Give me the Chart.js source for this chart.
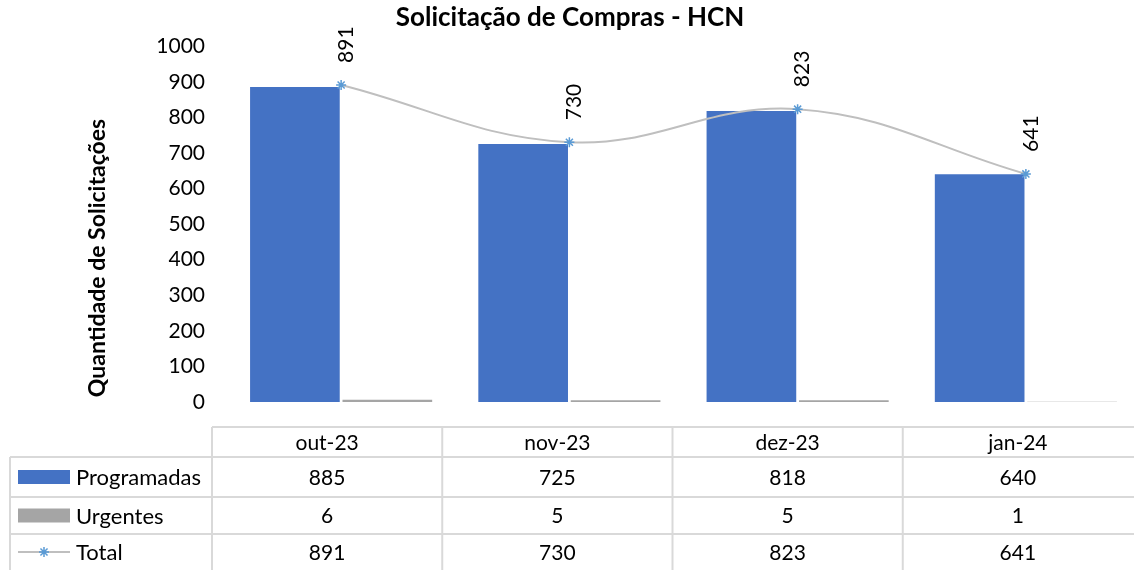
<!DOCTYPE html>
<html>
<head>
<meta charset="utf-8">
<script src="https://cdn.jsdelivr.net/npm/chart.js@4.4.0/dist/chart.umd.min.js"></script>
<style>
html, body { margin: 0; padding: 0; background: #fff; overflow: hidden; }
canvas { display: block; }
</style>
</head>
<body>
<canvas id="chart" width="1140" height="570"></canvas>
<script>
let months = ["out-23", "nov-23", "dez-23", "jan-24"];
let programadas = [885, 725, 818, 640];
let urgentes = [6, 5, 5, 1];
let total = [891, 730, 823, 641];

let fontFamily = "Lato, 'Liberation Sans', sans-serif";
let blue = "#4472c4";
let gray = "#a5a5a5";
let lineGray = "#bfbfbf";
let markerBlue = "#5b9bd5";

Chart.defaults.font.family = fontFamily;
Chart.defaults.color = "#000";

// rotated value labels above the Total line
let totalLabels = {
    id: "totalLabels",
    afterDatasetsDraw(chart) {
        let ctx = chart.ctx;
        let meta = chart.getDatasetMeta(2);
        ctx.save();
        ctx.font = "21px " + fontFamily;
        ctx.fillStyle = "#000";
        ctx.textAlign = "left";
        ctx.textBaseline = "middle";
        meta.data.forEach((pt, i) => {
            ctx.save();
            ctx.translate(pt.x + 5, pt.y - 22);
            ctx.rotate(-Math.PI / 2);
            ctx.fillText(String(total[i]), 0, 0);
            ctx.restore();
        });
        ctx.restore();
    }
};

// axis title and the data table under the plot
let dataTable = {
    id: "dataTable",
    afterDraw(chart) {
        let ctx = chart.ctx;
        ctx.save();

        ctx.font = "bold 23px " + fontFamily;
        ctx.fillStyle = "#000";
        ctx.textAlign = "center";
        ctx.textBaseline = "middle";
        ctx.translate(98, 258);
        ctx.rotate(-Math.PI / 2);
        ctx.fillText("Quantidade de Solicitações", 0, 0);
        ctx.setTransform(1, 0, 0, 1, 0, 0);

        let left = 10, x0 = 212, x1 = 1133;
        let rows = [427, 457, 497, 534, 570];
        let colW = (x1 - x0) / months.length;

        ctx.strokeStyle = "#d9d9d9";
        ctx.lineWidth = 2;
        ctx.beginPath();
        ctx.moveTo(x0, rows[0]); ctx.lineTo(x1 + 2, rows[0]);
        for (let r = 1; r < rows.length - 1; r++) {
            ctx.moveTo(left, rows[r]); ctx.lineTo(x1 + 2, rows[r]);
        }
        ctx.moveTo(left, rows[1]); ctx.lineTo(left, rows[4]);
        for (let c = 0; c < months.length; c++) {
            ctx.moveTo(x0 + c * colW, rows[0]); ctx.lineTo(x0 + c * colW, rows[4]);
        }
        ctx.stroke();

        ctx.font = "21px " + fontFamily;
        ctx.fillStyle = "#000";
        ctx.textAlign = "center";
        let series = [programadas, urgentes, total];
        months.forEach((m, c) => {
            let cx = x0 + (c + 0.5) * colW;
            ctx.fillText(m, cx, (rows[0] + rows[1]) / 2 + 1);
            series.forEach((s, r) => {
                ctx.fillText(String(s[c]), cx, (rows[r + 1] + rows[r + 2]) / 2 + 1);
            });
        });

        // legend keys
        let names = ["Programadas", "Urgentes", "Total"];
        ctx.font = "22px " + fontFamily;
        ctx.textAlign = "left";
        names.forEach((n, r) => {
            let cy = (rows[r + 1] + rows[r + 2]) / 2;
            if (r === 0 || r === 1) {
                ctx.fillStyle = r === 0 ? blue : gray;
                ctx.fillRect(18, cy - 7, 52, 14);
            } else {
                ctx.strokeStyle = lineGray;
                ctx.lineWidth = 2;
                ctx.beginPath();
                ctx.moveTo(18, cy); ctx.lineTo(70, cy);
                ctx.stroke();
                ctx.strokeStyle = markerBlue;
                ctx.lineWidth = 1.5;
                Chart.helpers.drawPoint(ctx, { pointStyle: "star", radius: 5, borderWidth: 1.5 }, 44, cy);
            }
            ctx.fillStyle = "#000";
            ctx.fillText(n, 76, cy + 1);
        });

        ctx.restore();
    }
};

let context = document.getElementById("chart").getContext("2d");
let chart = new Chart(context, {
    type: "bar",
    data: {
        labels: months,
        datasets: [
            {
                label: "Programadas",
                data: programadas,
                backgroundColor: blue,
                categoryPercentage: 0.81,
                barPercentage: 0.97,
                order: 1
            },
            {
                label: "Urgentes",
                data: urgentes,
                backgroundColor: gray,
                categoryPercentage: 0.81,
                barPercentage: 0.97,
                order: 1
            },
            {
                type: "line",
                label: "Total",
                data: total,
                borderColor: lineGray,
                borderWidth: 2,
                tension: 0.4,
                pointStyle: "star",
                pointRadius: 5,
                pointBorderColor: markerBlue,
                pointBackgroundColor: markerBlue,
                pointBorderWidth: 1.5,
                order: 0
            }
        ]
    },
    options: {
        responsive: false,
        animation: false,
        layout: { autoPadding: false, padding: { left: 0, right: 0, bottom: 168 } },
        plugins: {
            legend: { display: false },
            tooltip: { enabled: false },
            title: {
                display: true,
                text: "Solicitação de Compras - HCN",
                color: "#000",
                font: { size: 26, weight: "bold" },
                padding: { top: 2, bottom: 13 }
            }
        },
        scales: {
            x: { display: false },
            y: {
                min: 0,
                max: 1000,
                ticks: {
                    stepSize: 100,
                    font: { size: 21 },
                    color: "#000",
                    padding: 22,
                    callback: v => String(v)
                },
                grid: { display: false, drawTicks: false },
                border: { display: false },
                afterFit: s => { s.width = 227; }
            }
        }
    },
    plugins: [totalLabels, dataTable]
});
</script>
</body>
</html>
